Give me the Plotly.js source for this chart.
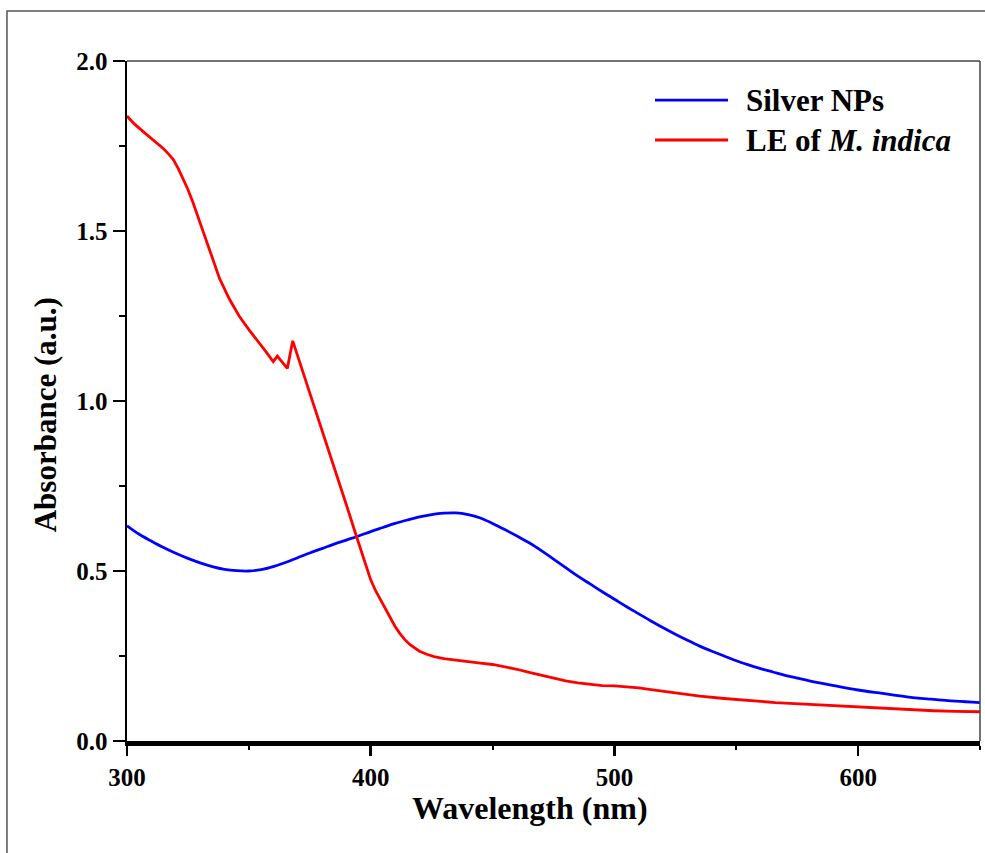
<!DOCTYPE html>
<html>
<head>
<meta charset="utf-8">
<script src="https://cdn.plot.ly/plotly-3.0.1.min.js"></script>
<style>
  html, body { margin: 0; padding: 0; background: #fff; overflow: hidden; }
  #chart { width: 985px; height: 853px; }
</style>
</head>
<body>
<div id="chart"></div>
<script>
// Silver NPs spectrum
const silverWavelength = [300, 305, 310, 315, 320, 325, 330, 335, 340, 345, 350, 355, 360, 365, 370, 375, 380, 385, 390, 395, 400, 405, 410, 415, 420, 425, 430, 435, 440, 445, 450, 455, 460, 465, 470, 475, 480, 485, 490, 495, 500, 505, 510, 515, 520, 525, 530, 535, 540, 545, 550, 555, 560, 565, 570, 575, 580, 590, 600, 610, 620, 630, 640, 650];
const silverAbsorbance = [0.633, 0.608, 0.588, 0.569, 0.552, 0.537, 0.524, 0.513, 0.505, 0.501, 0.500, 0.504, 0.513, 0.525, 0.539, 0.553, 0.566, 0.579, 0.591, 0.603, 0.616, 0.628, 0.640, 0.650, 0.659, 0.666, 0.670, 0.671, 0.666, 0.656, 0.640, 0.622, 0.603, 0.583, 0.560, 0.535, 0.510, 0.485, 0.462, 0.439, 0.417, 0.395, 0.374, 0.353, 0.333, 0.314, 0.296, 0.279, 0.264, 0.250, 0.236, 0.224, 0.213, 0.203, 0.193, 0.185, 0.177, 0.163, 0.150, 0.140, 0.130, 0.123, 0.117, 0.113];

// Leaf extract spectrum
const leWavelength = [300, 303, 307, 311, 315, 317, 319, 321, 323, 325, 327, 330, 334, 338, 342, 346, 350, 354, 357, 360, 361.7, 363, 365.8, 368, 372, 376, 380, 383, 386.8, 390, 394, 396, 398, 400, 402, 404, 406, 408, 410, 412, 414, 416, 418, 420, 423, 426, 430, 435, 440, 445, 450, 455, 460, 465, 470, 475, 480, 485, 490, 495, 500, 505, 510, 515, 525, 535, 545, 556, 566, 576, 587, 597, 607, 617, 631, 640, 650];
const leAbsorbance = [1.838, 1.815, 1.790, 1.767, 1.742, 1.727, 1.710, 1.684, 1.654, 1.622, 1.585, 1.524, 1.444, 1.360, 1.300, 1.250, 1.210, 1.174, 1.145, 1.116, 1.132, 1.120, 1.096, 1.177, 1.090, 1.005, 0.918, 0.850, 0.768, 0.695, 0.605, 0.560, 0.515, 0.474, 0.442, 0.415, 0.388, 0.362, 0.337, 0.316, 0.298, 0.284, 0.273, 0.264, 0.255, 0.248, 0.242, 0.237, 0.233, 0.229, 0.225, 0.219, 0.211, 0.202, 0.193, 0.184, 0.177, 0.171, 0.166, 0.163, 0.162, 0.160, 0.156, 0.151, 0.141, 0.132, 0.125, 0.118, 0.113, 0.109, 0.105, 0.101, 0.097, 0.093, 0.089, 0.087, 0.086];

const seriesNames = ["Silver NPs", "LE of <i>M. indica</i>"];
const seriesColors = ["#0000ff", "#ff0000"];
const xTitle = "Wavelength (nm)";
const yTitle = "Absorbance (a.u.)";

const FONT = "Liberation Serif, Times New Roman, serif";

const traces = [
  { x: silverWavelength, y: silverAbsorbance, name: seriesNames[0], type: "scatter", mode: "lines",
    line: { color: seriesColors[0], width: 2.8, shape: "spline", smoothing: 1 }, showlegend: false },
  { x: leWavelength, y: leAbsorbance, name: seriesNames[1], type: "scatter", mode: "lines",
    line: { color: seriesColors[1], width: 2.8 }, showlegend: false }
];

const legendY = [0.9426, 0.8838];
const shapes = [
  // outer frame
  { type: "rect", xref: "paper", yref: "paper", x0: -0.1407, x1: 1.2, y0: -0.4, y1: 1.0735,
    line: { color: "#555", width: 1.5 }, fillcolor: "rgba(0,0,0,0)", layer: "below" },
  // top & right box lines
  { type: "line", xref: "paper", yref: "paper", x0: 0, x1: 1, y0: 1, y1: 1, line: { color: "#444", width: 1.5 } },
  { type: "line", xref: "paper", yref: "paper", x0: 1, x1: 1, y0: 0, y1: 1, line: { color: "#444", width: 1.5 } }
];
const annotations = [
  { xref: "paper", yref: "paper", x: 0.472, y: -0.0985, xanchor: "center", yanchor: "middle",
    text: xTitle, showarrow: false, font: { family: FONT, size: 32, weight: "bold", color: "#000" } },
  { xref: "paper", yref: "paper", x: -0.0961, y: 0.479, xanchor: "center", yanchor: "middle", textangle: -90,
    text: yTitle, showarrow: false, font: { family: FONT, size: 31, weight: "bold", color: "#000" } }
];
for (let i = 0; i < seriesNames.length; i++) {
  shapes.push({ type: "line", xref: "paper", yref: "paper", x0: 0.619, x1: 0.7046, y0: legendY[i], y1: legendY[i],
    line: { color: seriesColors[i], width: 2.8 } });
  annotations.push({ xref: "paper", yref: "paper", x: 0.7235, y: legendY[i], xanchor: "left", yanchor: "middle",
    text: seriesNames[i], showarrow: false, font: { family: FONT, size: 31, weight: "bold", color: "#000" } });
}

const layout = {
  width: 985, height: 853,
  margin: { l: 127, r: 5, t: 61, b: 112, pad: 0 },
  paper_bgcolor: "#fff", plot_bgcolor: "#fff",
  showlegend: false,
  xaxis: {
    range: [300, 650], dtick: 100, tick0: 300,
    showgrid: false, zeroline: false,
    showline: true, linecolor: "#000", linewidth: 5,
    ticks: "outside", ticklen: 10, tickwidth: 2.5, tickcolor: "#000",
    minor: { dtick: 50, ticks: "outside", ticklen: 4, tickwidth: 2, tickcolor: "#000" },
    tickfont: { family: FONT, size: 25, weight: "bold", color: "#000" }
  },
  yaxis: {
    range: [0, 2], dtick: 0.5, tick0: 0, tickformat: ".1f",
    showgrid: false, zeroline: false,
    showline: true, linecolor: "#000", linewidth: 2.5,
    ticks: "outside", ticklen: 12, tickwidth: 2.5, tickcolor: "#000",
    minor: { dtick: 0.25, ticks: "outside", ticklen: 6, tickwidth: 2, tickcolor: "#000" },
    tickfont: { family: FONT, size: 25, weight: "bold", color: "#000" }
  },
  shapes: shapes,
  annotations: annotations
};

Plotly.newPlot("chart", traces, layout, { displayModeBar: false, staticPlot: true });
</script>
</body>
</html>
